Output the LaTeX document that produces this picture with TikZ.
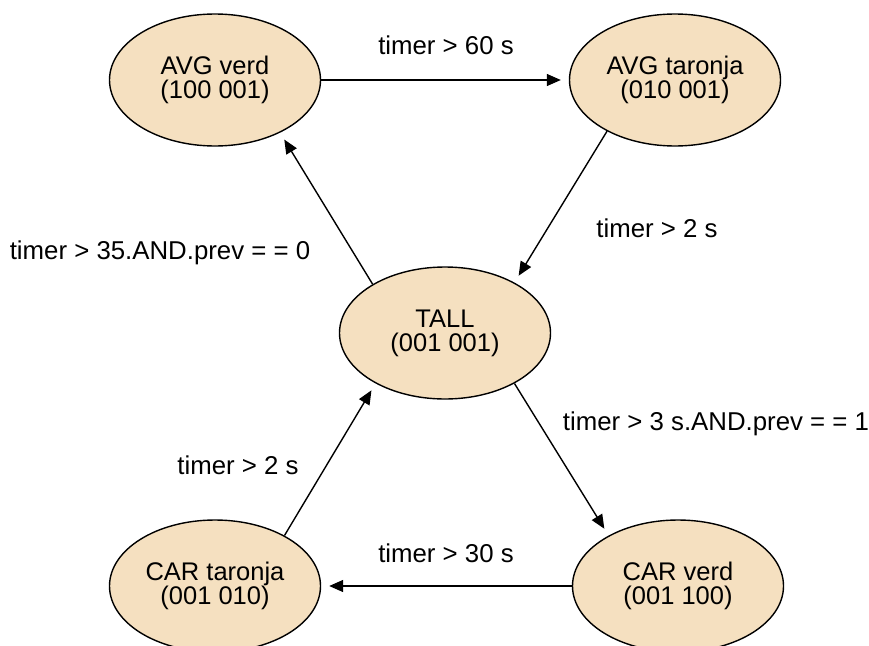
\documentclass[tikz,border=0pt]{standalone}
\usepackage{fontspec}
\setmainfont{Liberation Sans}
\usetikzlibrary{shapes.geometric,arrows.meta}
\definecolor{statefill}{RGB}{245,224,192}
\tikzset{
  state/.style={ellipse,draw=black,line width=1.4pt,fill=statefill,minimum width=211pt,minimum height=132pt,inner sep=0pt,align=center,font=\fontsize{25.5}{24}\selectfont},
  trans/.style={line width=1.4pt,-{Triangle[length=14pt,width=12pt]},shorten >=8pt},
  lbl/.style={anchor=base,inner sep=0pt,font=\fontsize{25.8}{24}\selectfont}
}
\begin{document}
\begin{tikzpicture}[x=1pt,y=-1pt]
\useasboundingbox (0,0) rectangle (869,645);
\clip (0,0) rectangle (869,645);
\node[state] (avgv) at (215,80) {AVG verd\\(100 001)};
\node[state] (avgt) at (675,80) {AVG taronja\\(010 001)};
\node[state] (tall) at (445,333) {TALL\\(001 001)};
\node[state] (cart) at (215,586) {CAR taronja\\(001 010)};
\node[state] (carv) at (678,586) {CAR verd\\(001 100)};

\draw[trans] (avgv.east) -- (avgt.west);
\draw[trans] (avgt.217) -- (tall.36.5);
\draw[trans] (tall.146) -- (avgv.321);
\draw[trans] (cart.36.5) -- (tall.216.5);
\draw[trans] (tall.324) -- (carv.144);
\draw[trans] (carv.west) -- (cart.east);

\node[lbl] (l1) at (446,54) {timer > 60 s};
\node[lbl] (l2) at (657,237) {timer > 2 s};
\node[lbl] (l3) at (160,259) {timer > 35.AND.prev = = 0};
\node[lbl] (l4) at (238,474) {timer > 2 s};
\node[lbl] (l5) at (716,430) {timer > 3 s.AND.prev = = 1};
\node[lbl] (l6) at (446,562) {timer > 30 s};
\end{tikzpicture}
\end{document}
